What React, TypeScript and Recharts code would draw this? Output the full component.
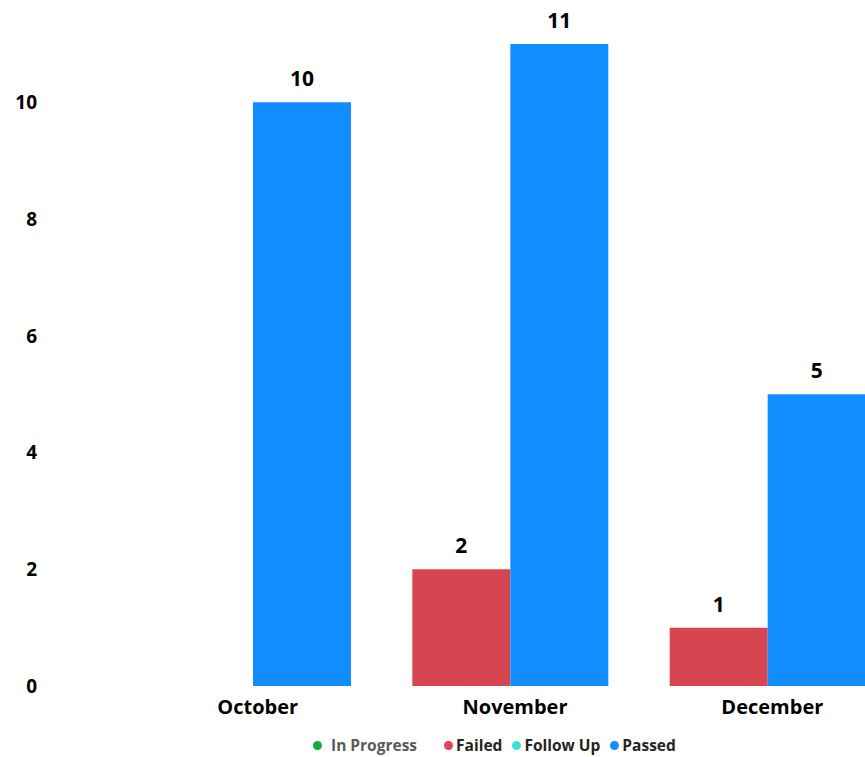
import React from 'react';
import { BarChart, Bar, XAxis, YAxis, LabelList } from 'recharts';

const months = ['October', 'November', 'December'];
const failedValues: (number | null)[] = [null, 2, 1];
const passedValues: (number | null)[] = [10, 11, 5];
const yTicks = [0, 2, 4, 6, 8, 10];

const legendItems = [
  { name: 'In Progress', color: '#1AAB40', textColor: '#5a5a5a' },
  { name: 'Failed', color: '#E0455A', textColor: '#252423' },
  { name: 'Follow Up', color: '#41E0D5', textColor: '#252423' },
  { name: 'Passed', color: '#118DFF', textColor: '#252423' },
];

const data = months.map((m, i) => ({
  month: m,
  Failed: failedValues[i],
  Passed: passedValues[i],
}));

const FONT = '"Open Sans", "Noto Sans", sans-serif';

const fmt = (v: any) => (v === null || v === undefined ? '' : v);

export default function App() {
  return (
    <div
      style={{
        position: 'fixed',
        left: 0,
        top: 0,
        width: 865,
        height: 757,
        overflow: 'hidden',
        background: '#ffffff',
        fontFamily: FONT,
      }}
    >
      <BarChart
        width={896}
        height={757}
        data={data}
        margin={{ top: 44, right: 0, bottom: 41, left: 0 }}
        barCategoryGap={31}
        barGap={0}
      >
        <XAxis
          dataKey="month"
          axisLine={false}
          tickLine={false}
          tickSize={0}
          tickMargin={14}
          height={30}
          tick={{ fill: '#000000', fontSize: 20, fontWeight: 700, fontFamily: FONT, dx: 5 }}
        />
        <YAxis
          domain={[0, 11]}
          ticks={yTicks}
          axisLine={false}
          tickLine={false}
          tickSize={0}
          tickMargin={87}
          width={124}
          tick={{ fill: '#000000', fontSize: 19, fontWeight: 700, fontFamily: FONT }}
        />
        <Bar dataKey="Failed" fill="#D64550" isAnimationActive={false}>
          <LabelList
            dataKey="Failed"
            position="top"
            offset={16}
            formatter={fmt}
            style={{ fill: '#000000', fontSize: 21, fontWeight: 700, fontFamily: FONT }}
          />
        </Bar>
        <Bar dataKey="Passed" fill="#118DFF" isAnimationActive={false}>
          <LabelList
            dataKey="Passed"
            position="top"
            offset={16}
            formatter={fmt}
            style={{ fill: '#000000', fontSize: 21, fontWeight: 700, fontFamily: FONT }}
          />
        </Bar>
      </BarChart>
      <div
        style={{
          position: 'absolute',
          left: 313,
          top: 734,
          display: 'flex',
          alignItems: 'center',
          fontSize: 15.5,
          fontWeight: 700,
          lineHeight: '22px',
          whiteSpace: 'nowrap',
        }}
      >
        {legendItems.map((it, i) => (
          <div
            key={it.name}
            style={{ display: 'flex', alignItems: 'center', marginRight: i === 0 ? 27 : 10 }}
          >
            <span
              style={{
                display: 'inline-block',
                width: 9,
                height: 9,
                borderRadius: 5,
                background: it.color,
                marginRight: i === 0 ? 9 : 3,
              }}
            />
            <span style={{ color: it.textColor }}>{it.name}</span>
          </div>
        ))}
      </div>
    </div>
  );
}
